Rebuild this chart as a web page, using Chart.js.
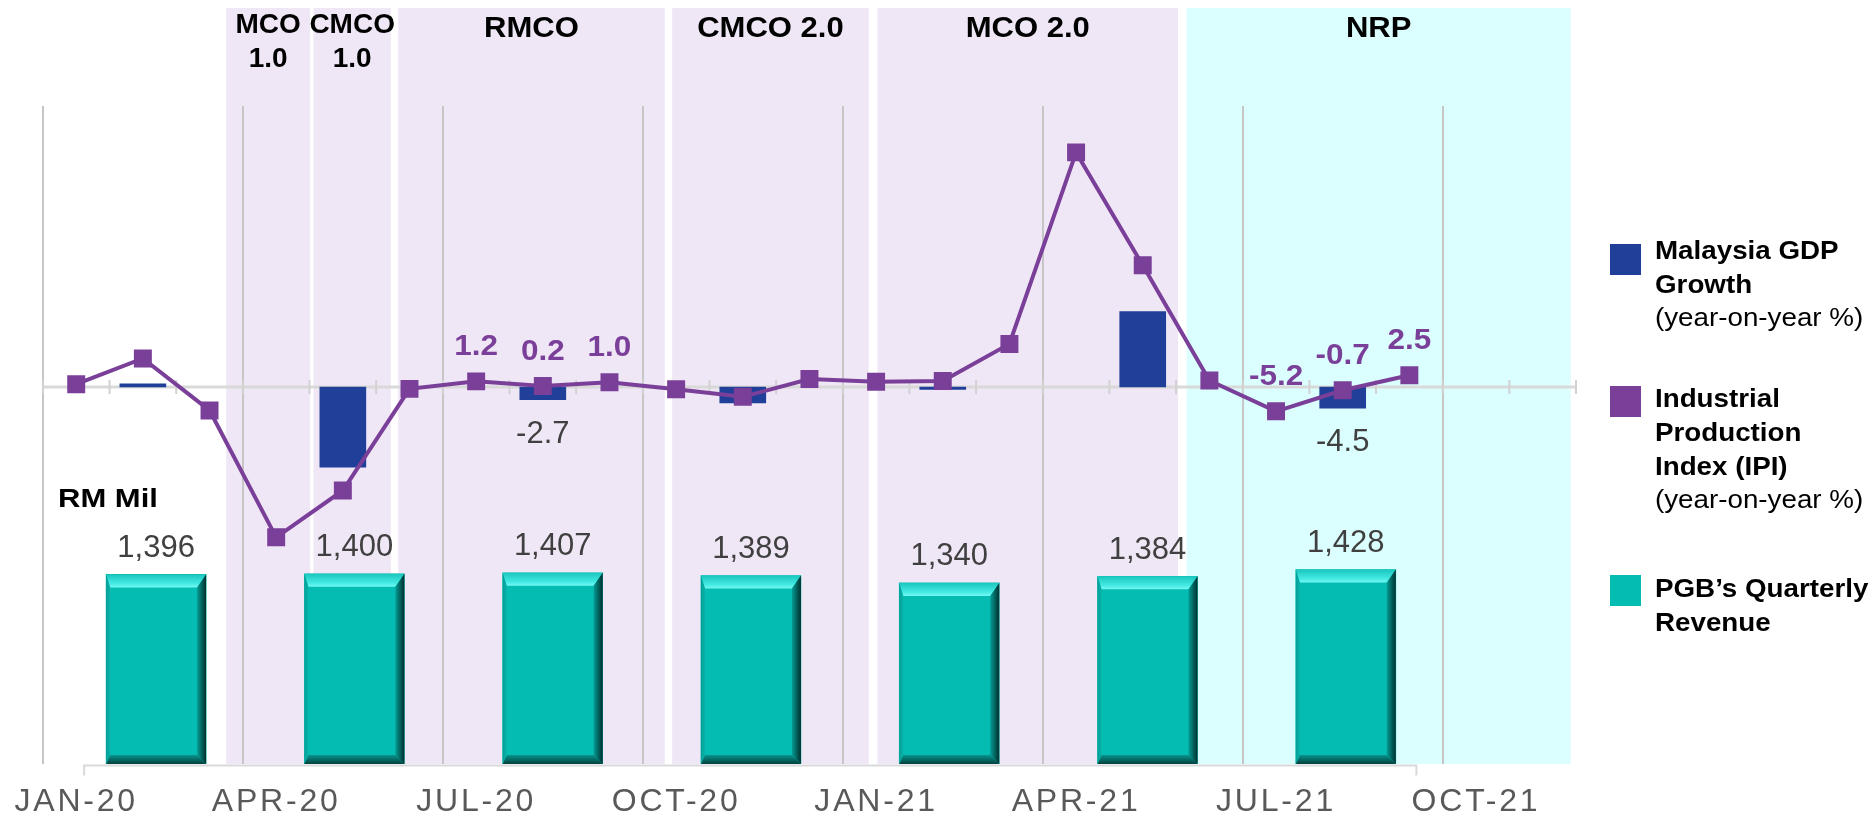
<!DOCTYPE html>
<html>
<head>
<meta charset="utf-8">
<script src="https://cdn.jsdelivr.net/npm/chart.js@4.4.1/dist/chart.umd.min.js"></script>
<style>
  html, body { margin: 0; padding: 0; background: #ffffff; }
  #wrap { position: relative; width: 1876px; height: 818px; }
</style>
</head>
<body>
<div id="wrap"><canvas id="c"></canvas></div>
<script>
// ---------------- data ----------------
const months = ['JAN-20','FEB-20','MAR-20','APR-20','MAY-20','JUN-20','JUL-20','AUG-20','SEP-20','OCT-20','NOV-20','DEC-20',
                'JAN-21','FEB-21','MAR-21','APR-21','MAY-21','JUN-21','JUL-21','AUG-21','SEP-21','OCT-21','NOV-21'];
const tickLabels = ['JAN-20','APR-20','JUL-20','OCT-20','JAN-21','APR-21','JUL-21','OCT-21'];

const ipiYoY = [0.6, 6.1, -5.0, -32.1, -22.1, -0.4, 1.2, 0.2, 1.0, -0.5, -2.1, 1.7,
                1.1, 1.3, 9.2, 50.1, 26.0, 1.4, -5.2, -0.7, 2.5];
const ipiLabelled = ['JUL-20','AUG-20','SEP-20','JUL-21','AUG-21','SEP-21'];

const gdpMonths = ['FEB-20','MAY-20','AUG-20','NOV-20','FEB-21','MAY-21','AUG-21'];
const gdpGrowth = [0.7, -17.1, -2.7, -3.4, -0.5, 16.1, -4.5];
const gdpLabelled = ['AUG-20','AUG-21'];

const revenueQuarters = ['1Q20','2Q20','3Q20','4Q20','1Q21','2Q21','3Q21'];
const pgbRevenue = [1396, 1400, 1407, 1389, 1340, 1384, 1428];
const revenueUnit = 'RM Mil';

const phaseNames = [['MCO','1.0'], ['CMCO','1.0'], ['RMCO'], ['CMCO 2.0'], ['MCO 2.0'], ['NRP']];
const phaseStart = [2.75, 4.06, 5.33, 9.44, 12.52, 17.16];   // months after start of JAN-20
const phaseEnd   = [4.01, 5.22, 9.33, 12.39, 17.03, 22.92];

const legendTitles = [['Malaysia GDP','Growth'], ['Industrial','Production','Index (IPI)'], ['PGB\u2019s Quarterly','Revenue']];
const legendNotes  = ['(year-on-year %)', '(year-on-year %)', ''];

// ---------------- styles ----------------
const FF = "'Liberation Sans', Arial, sans-serif";
const COL = {
  gdp: '#1F3F99', ipi: '#7A3F98', rev: '#05BCB2',
  lock: '#F0E7F6', nrp: '#DBFEFE',
  grid: '#C6C6C6', zero: '#D9D9D9', axisText: '#595959', valueText: '#404040'
};
const REV_MIN = 140, REV_MAX = 4500;

function txt(ctx, s, x, y, font, color, align, sx) {
  ctx.save();
  ctx.font = font;
  ctx.fillStyle = color;
  ctx.textBaseline = 'alphabetic';
  ctx.textAlign = 'left';
  const w = ctx.measureText(s).width * sx;
  const x0 = align === 'center' ? x - w / 2 : (align === 'right' ? x - w : x);
  ctx.translate(x0, y);
  ctx.scale(sx, 1);
  ctx.fillText(s, 0, 0);
  ctx.restore();
}
function poly(ctx, pts, fill) {
  ctx.beginPath();
  ctx.moveTo(pts[0][0], pts[0][1]);
  for (let i = 1; i < pts.length; i++) ctx.lineTo(pts[i][0], pts[i][1]);
  ctx.closePath();
  ctx.fillStyle = fill;
  ctx.fill();
}
function bevel(ctx, l, r, t, b) {
  const bt = 13, bb = 9, bl = 4, br = 9;
  let g = ctx.createLinearGradient(0, t, 0, t + bt);
  g.addColorStop(0, '#1ac6bd'); g.addColorStop(0.7, '#44eae3'); g.addColorStop(1, '#74f8f3');
  poly(ctx, [[l, t], [r, t], [r - br, t + bt], [l + bl, t + bt]], g);
  g = ctx.createLinearGradient(r - br, 0, r, 0);
  g.addColorStop(0, '#049c94'); g.addColorStop(1, '#00302e');
  poly(ctx, [[r, t], [r, b], [r - br, b - bb], [r - br, t + bt]], g);
  g = ctx.createLinearGradient(0, b - bb, 0, b);
  g.addColorStop(0, '#08958d'); g.addColorStop(1, '#03403d');
  poly(ctx, [[l, b], [r, b], [r - br, b - bb], [l + bl, b - bb]], g);
  g = ctx.createLinearGradient(l, 0, l + bl, 0);
  g.addColorStop(0, '#079e96'); g.addColorStop(1, '#06b3a9');
  poly(ctx, [[l, t], [l + bl, t + bt], [l + bl, b - bb], [l, b]], g);
}
const monthPx = (s, p) => s.left + p * s.width / months.length;

const decor = {
  id: 'decor',
  beforeDraw(chart) {
    const { ctx, chartArea, scales: { x } } = chart;
    ctx.save();
    ctx.letterSpacing = '0px';
    // phase shading + titles
    phaseNames.forEach((name, i) => {
      const x0 = monthPx(x, phaseStart[i]), x1 = monthPx(x, phaseEnd[i]);
      ctx.fillStyle = name[0] === 'NRP' ? COL.nrp : COL.lock;
      ctx.fillRect(x0, 8, x1 - x0, chartArea.bottom - 8);
      const cx = (x0 + x1) / 2;
      if (name.length === 2) {
        const f = 'bold 28px ' + FF;
        txt(ctx, name[0], cx, 33.3, f, '#000', 'center', 1.0);
        txt(ctx, name[1], cx, 66.7, f, '#000', 'center', 1.0);
      } else {
        txt(ctx, name[0], cx, 36.7, 'bold 29px ' + FF, '#000', 'center', 1.07);
      }
    });
    // unit
    txt(ctx, revenueUnit, 58, 507.3, 'bold 25px ' + FF, '#000', 'left', 1.24);
    // legend
    const dsIdx = [1, 0, 2];
    const sq = [244, 386, 575], base = [259.3, 407.3, 597];
    legendTitles.forEach((lines, g) => {
      ctx.fillStyle = chart.data.datasets[dsIdx[g]].backgroundColor;
      ctx.fillRect(1610, sq[g], 31, 31);
      lines.forEach((s, j) => txt(ctx, s, 1655, base[g] + j * 34, 'bold 25px ' + FF, '#000', 'left', 1.11));
      if (legendNotes[g]) txt(ctx, legendNotes[g], 1655, base[g] + lines.length * 34 - 1, '25px ' + FF, '#000', 'left', 1.11);
    });
    ctx.restore();
    ctx.letterSpacing = '2.8px';
  },
  beforeDatasetsDraw(chart) {
    const { ctx, chartArea, scales: { x, y, x2 } } = chart;
    ctx.letterSpacing = '0px';
    ctx.save();
    const y0 = y.getPixelForValue(0);
    ctx.strokeStyle = COL.zero;
    ctx.lineWidth = 3;
    ctx.beginPath(); ctx.moveTo(x.left, y0); ctx.lineTo(x.right, y0); ctx.stroke();
    ctx.lineWidth = 2;
    ctx.strokeStyle = '#D2D2D2';
    for (let i = 0; i <= months.length; i++) {
      const px = monthPx(x, i);
      ctx.beginPath(); ctx.moveTo(px, y0 - 7); ctx.lineTo(px, y0 + 7); ctx.stroke();
    }
    // revenue base axis
    const yb = chartArea.bottom + 1.5;
    const a = x2.getPixelForValue(-0.363), b = x2.getPixelForValue(6.356);
    ctx.strokeStyle = '#D9D9D9';
    ctx.beginPath();
    ctx.moveTo(a, yb + 10); ctx.lineTo(a, yb); ctx.lineTo(b, yb); ctx.lineTo(b, yb + 10);
    ctx.stroke();
    ctx.restore();
  },
  afterDatasetDraw(chart, args) {
    if (args.index !== 2) return;
    const ctx = chart.ctx;
    ctx.save();
    args.meta.data.forEach(el => {
      const p = el.getProps(['x', 'y', 'base', 'width'], true);
      bevel(ctx, p.x - p.width / 2, p.x + p.width / 2, p.y, p.base);
    });
    ctx.restore();
  },
  afterDatasetsDraw(chart) {
    const ctx = chart.ctx;
    const ipiMeta = chart.getDatasetMeta(0);
    ipiLabelled.forEach(m => {
      const i = months.indexOf(m);
      const p = ipiMeta.data[i];
      txt(ctx, ipiYoY[i].toFixed(1), p.x, p.y - 26, 'bold 30px ' + FF, COL.ipi, 'center', 1.05);
    });
    const gdpMeta = chart.getDatasetMeta(1);
    gdpLabelled.forEach(m => {
      const k = gdpMonths.indexOf(m);
      const b = gdpMeta.data[k];
      txt(ctx, gdpGrowth[k].toFixed(1), b.x, b.y + 43, '31px ' + FF, COL.valueText, 'center', 1);
    });
    const revMeta = chart.getDatasetMeta(2);
    revMeta.data.forEach((b, k) => {
      txt(ctx, pgbRevenue[k].toLocaleString('en-US'), b.x, b.y - 17.5, '31px ' + FF, COL.valueText, 'center', 1);
    });
  }
};

new Chart(document.getElementById('c'), {
  data: {
    labels: months,
    datasets: [
      {
        type: 'line', label: 'Industrial Production Index (IPI)', data: ipiYoY,
        xAxisID: 'x', yAxisID: 'y', order: 0,
        borderColor: COL.ipi, backgroundColor: COL.ipi, borderWidth: 4, tension: 0,
        pointStyle: 'rect', pointRadius: 12.7, pointBorderWidth: 0, pointBackgroundColor: COL.ipi
      },
      {
        type: 'bar', label: 'Malaysia GDP Growth',
        data: gdpMonths.map((m, i) => ({ x: m, y: gdpGrowth[i] })),
        xAxisID: 'x', yAxisID: 'y', order: 1, grouped: false,
        backgroundColor: COL.gdp, barThickness: 46
      },
      {
        type: 'bar', label: 'PGB\u2019s Quarterly Revenue',
        data: pgbRevenue.map((v, i) => ({ x: i, y: v })),
        xAxisID: 'x2', yAxisID: 'y2', order: 2, grouped: false, base: REV_MIN,
        backgroundColor: COL.rev, barThickness: 100
      }
    ]
  },
  options: {
    responsive: true, maintainAspectRatio: false, animation: false, events: [],
    layout: { padding: { left: 39.6, right: 300, top: 106, bottom: -22 } },
    plugins: { legend: { display: false }, tooltip: { enabled: false } },
    scales: {
      x: {
        type: 'category', offset: true,
        grid: {
          offset: true, drawTicks: false, lineWidth: 2,
          color: c => (c.index !== undefined && c.index % 3 === 0) ? COL.grid : 'rgba(0,0,0,0)'
        },
        border: { display: false },
        ticks: {
          autoSkip: false, maxRotation: 0, minRotation: 0, padding: 22,
          color: COL.axisText, font: { family: FF, size: 32, lineHeight: 1 },
          callback: (v, i) => tickLabels.includes(months[i]) ? months[i] : ''
        }
      },
      y: { type: 'linear', min: -80.5, max: 60, display: false },
      x2: { type: 'linear', min: -0.571, max: 7.161, offset: false, display: false },
      y2: { type: 'linear', min: REV_MIN, max: REV_MAX, display: false }
    }
  },
  plugins: [decor]
});
</script>
</body>
</html>
